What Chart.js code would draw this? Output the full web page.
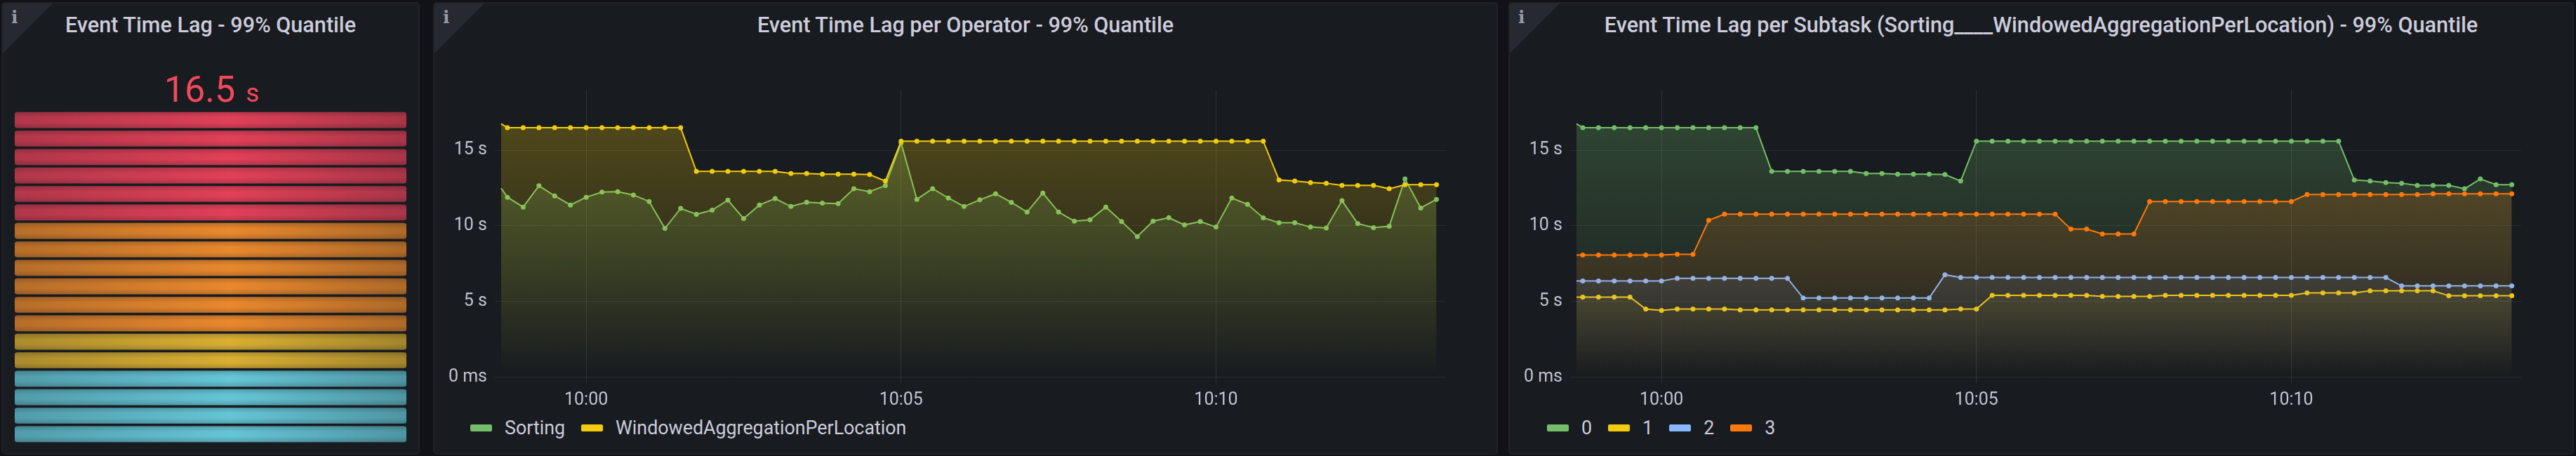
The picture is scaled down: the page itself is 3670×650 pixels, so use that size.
<!DOCTYPE html>
<html>
<head>
<meta charset="utf-8">
<title>Event Time Lag</title>
<script src="https://cdn.jsdelivr.net/npm/chart.js@4"></script>
<style>
  html, body { margin: 0; padding: 0; width: 3670px; height: 650px; overflow: hidden; background: #111217; font-family: Roboto, sans-serif; color: #ccccdc; }
  .panel { position: absolute; top: 3px; height: 645px; box-sizing: border-box; background: #181b1f; border: 2px solid #202226; border-radius: 5px; overflow: hidden; }
  .corner { position: absolute; left: 0; top: 0; width: 71px; height: 71px; background: #262930; clip-path: polygon(0 0, 100% 0, 0 100%); }
  .info { position: absolute; left: 12px; top: 6px; font: bold 25px "DejaVu Serif", serif; color: #9a9aa6; line-height: 28px; }
  .title { position: absolute; left: 0; right: 0; top: 12px; text-align: center; font-size: 30.6px; font-weight: 500; line-height: 38px; }
  canvas { position: absolute; }
  .big { position: absolute; left: 0; width: 595px; top: 93px; text-align: center; color: #f2495c; font-size: 52px; line-height: 60px; }
  .big span { font-size: 37px; margin-left: 15px; }
  .legend { position: absolute; top: 591px; height: 38px; display: flex; align-items: center; font-size: 26.8px; white-space: nowrap; }
  .legend i { display: block; width: 31px; height: 10px; border-radius: 2px; margin-right: 18px; }
  .legend b { font-weight: 400; margin-right: 23px; }
</style>
</head>
<body>
<div class="panel" style="left:2px;width:596px">
  <div class="corner"></div><div class="info">i</div>
  <div class="title">Event Time Lag - 99% Quantile</div>
  <div class="big">16.5<span>s</span></div>
</div>
<div class="panel" style="left:617px;width:1517px">
  <div class="corner"></div><div class="info">i</div>
  <div class="title">Event Time Lag per Operator - 99% Quantile</div>
</div>
<div class="panel" style="left:2149px;width:1518px">
  <div class="corner"></div><div class="info">i</div>
  <div class="title">Event Time Lag per Subtask (Sorting____WindowedAggregationPerLocation) - 99% Quantile</div>
</div>
<canvas id="gaugeChart" width="558" height="474" style="left:21px;top:158px"></canvas>
<canvas id="operatorChart" width="1500" height="470" style="left:625px;top:120px"></canvas>
<canvas id="subtaskChart" width="1500" height="470" style="left:2157px;top:120px"></canvas>
<div class="legend" id="operatorLegend" style="left:670px"></div>
<div class="legend" id="subtaskLegend" style="left:2204px"></div>

<script>
// seconds relative to 10:00, first sample is cut off by the time range
var times = [-81, -75, -60, -45, -30, -15, 0, 15, 30, 45, 60, 75, 90, 105, 120, 135, 150, 165, 180, 195, 210, 225, 240, 255, 270, 285, 300,
  315, 330, 345, 360, 375, 390, 405, 420, 435, 450, 465, 480, 495, 510, 525, 540, 555, 570, 585, 600, 615, 630, 645, 660, 675, 690, 705, 720, 735, 750, 765, 780, 795, 810];

var sortingLag = [12.49, 11.89, 11.24, 12.65, 11.98, 11.38, 11.89, 12.23, 12.26, 12.04, 11.61, 9.83, 11.15, 10.76, 11.04, 11.70, 10.48, 11.38, 11.80, 11.28, 11.56, 11.50, 11.47, 12.45, 12.26, 12.66, 15.48,
  11.75, 12.46, 11.84, 11.28, 11.72, 12.12, 11.55, 10.91, 12.17, 10.91, 10.31, 10.40, 11.24, 10.29, 9.29, 10.31, 10.54, 10.06, 10.28, 9.92, 11.84, 11.42, 10.53, 10.20, 10.20, 9.92, 9.86, 11.66, 10.15, 9.88, 9.97, 13.10, 11.18, 11.75];
var windowedLag = [16.75, 16.49, 16.49, 16.49, 16.49, 16.49, 16.49, 16.49, 16.49, 16.49, 16.49, 16.49, 16.49, 13.6, 13.6, 13.6, 13.6, 13.6, 13.6, 13.47, 13.47, 13.42, 13.42, 13.42, 13.39, 12.96, 15.6,
  15.6, 15.6, 15.6, 15.6, 15.6, 15.6, 15.6, 15.6, 15.6, 15.6, 15.6, 15.6, 15.6, 15.6, 15.6, 15.6, 15.6, 15.6, 15.6, 15.6, 15.6, 15.6, 15.6, 13.03, 12.97, 12.86, 12.82, 12.68, 12.68, 12.68, 12.45, 12.72, 12.72, 12.72];

var subtask0 = [16.75, 16.49, 16.49, 16.49, 16.49, 16.49, 16.49, 16.49, 16.49, 16.49, 16.49, 16.49, 16.49, 13.6, 13.6, 13.6, 13.6, 13.6, 13.6, 13.47, 13.47, 13.42, 13.42, 13.42, 13.39, 12.96, 15.6,
  15.6, 15.6, 15.6, 15.6, 15.6, 15.6, 15.6, 15.6, 15.6, 15.6, 15.6, 15.6, 15.6, 15.6, 15.6, 15.6, 15.6, 15.6, 15.6, 15.6, 15.6, 15.6, 15.6, 13.03, 12.97, 12.86, 12.82, 12.68, 12.68, 12.68, 12.45, 13.10, 12.72, 12.72];
var subtask1 = [5.28, 5.28, 5.28, 5.28, 5.28, 4.49, 4.40, 4.49, 4.49, 4.49, 4.49, 4.44, 4.44, 4.44, 4.44, 4.44, 4.44, 4.44, 4.44, 4.44, 4.44, 4.44, 4.44, 4.44, 4.44, 4.49, 4.49,
  5.40, 5.40, 5.40, 5.40, 5.40, 5.40, 5.40, 5.33, 5.33, 5.33, 5.33, 5.40, 5.40, 5.40, 5.40, 5.40, 5.40, 5.40, 5.40, 5.40, 5.56, 5.56, 5.56, 5.56, 5.70, 5.70, 5.70, 5.70, 5.70, 5.37, 5.37, 5.37, 5.37, 5.37];
var subtask2 = [6.35, 6.35, 6.35, 6.35, 6.35, 6.35, 6.35, 6.53, 6.53, 6.53, 6.53, 6.53, 6.53, 6.53, 6.53, 5.22, 5.22, 5.22, 5.22, 5.22, 5.22, 5.22, 5.22, 5.22, 6.76, 6.58, 6.58,
  6.58, 6.58, 6.58, 6.58, 6.58, 6.58, 6.58, 6.58, 6.58, 6.58, 6.58, 6.58, 6.58, 6.58, 6.58, 6.58, 6.58, 6.58, 6.58, 6.58, 6.58, 6.58, 6.58, 6.58, 6.58, 6.58, 6.02, 6.02, 6.02, 6.02, 6.02, 6.02, 6.02, 6.02];
var subtask3 = [8.07, 8.07, 8.07, 8.07, 8.07, 8.07, 8.07, 8.11, 8.11, 10.36, 10.77, 10.77, 10.77, 10.77, 10.77, 10.77, 10.77, 10.77, 10.77, 10.77, 10.77, 10.77, 10.77, 10.77, 10.77, 10.77, 10.77,
  10.77, 10.77, 10.77, 10.77, 10.77, 9.78, 9.78, 9.46, 9.46, 9.46, 11.61, 11.61, 11.61, 11.61, 11.61, 11.61, 11.61, 11.61, 11.61, 11.61, 12.07, 12.07, 12.07, 12.07, 12.07, 12.07, 12.07, 12.07, 12.12, 12.12, 12.12, 12.12, 12.12, 12.12];

var xTicks = [0, 300, 600];
var xTickLabels = ["10:00", "10:05", "10:10"];
var yTicks = [0, 5, 10, 15];
var yTickLabels = ["0 ms", "5 s", "10 s", "15 s"];

// bar gauge cells, top to bottom
var gaugeCells = [1, 2, 3, 4, 5, 6, 7, 8, 9, 10, 11, 12, 13, 14, 15, 16, 17, 18];
var gaugeValues = [1, 1, 1, 1, 1, 1, 1, 1, 1, 1, 1, 1, 1, 1, 1, 1, 1, 1];
var gaugeColors = ["232,66,90", "232,66,90", "232,66,90", "232,66,90", "232,66,90", "232,66,90",
  "240,140,46", "240,140,46", "240,140,46", "240,140,46", "240,140,46", "240,140,46",
  "224,180,51", "224,180,51",
  "104,203,220", "104,203,220", "104,203,220", "104,203,220"];

var GREEN = "115,191,105", YELLOW = "242,204,12", BLUE = "138,184,255", ORANGE = "255,120,10";

function areaFill(rgb) {
  return function (context) {
    var area = context.chart.chartArea;
    if (!area) return "rgba(" + rgb + ",0.2)";
    var g = context.chart.ctx.createLinearGradient(0, area.top, 0, area.bottom);
    g.addColorStop(0, "rgba(" + rgb + ",0.29)");
    g.addColorStop(1, "rgba(" + rgb + ",0)");
    return g;
  };
}

function series(label, values, rgb, order) {
  return {
    label: label,
    data: values,
    borderColor: "rgb(" + rgb + ")",
    backgroundColor: areaFill(rgb),
    pointBackgroundColor: "rgb(" + rgb + ")",
    pointBorderColor: "rgb(" + rgb + ")",
    pointBorderWidth: 0,
    pointRadius: function (context) { return context.dataIndex === 0 ? 0 : 3.5; },
    borderWidth: 2,
    fill: "origin",
    tension: 0,
    order: order
  };
}

function lagChart(id, datasets) {
  return new Chart(document.getElementById(id), {
    type: "line",
    data: { labels: times, datasets: datasets },
    options: {
      responsive: false,
      animation: false,
      layout: { padding: { top: 8, right: 65, bottom: 0, left: 0 } },
      plugins: { legend: { display: false }, tooltip: { enabled: false } },
      scales: {
        x: {
          type: "linear",
          min: -87,
          max: 819,
          afterBuildTicks: function (scale) {
            scale.ticks = xTicks.map(function (v) { return { value: v }; });
          },
          afterFit: function (scale) {
            scale.height = 52.7;
            scale.paddingLeft = 0;
            scale.paddingRight = 0;
          },
          border: { display: false },
          grid: { color: "rgba(204,204,220,0.13)", tickColor: "rgba(204,204,220,0.13)", tickLength: 9 },
          ticks: {
            autoSkip: false,
            maxRotation: 0,
            padding: 9,
            color: "rgba(204,204,220,0.95)",
            font: { family: "Roboto", size: 25 },
            callback: function (v) { return xTickLabels[xTicks.indexOf(v)]; }
          }
        },
        y: {
          min: 0,
          max: 19,
          afterBuildTicks: function (scale) {
            scale.ticks = yTicks.map(function (v) { return { value: v }; });
          },
          afterFit: function (scale) {
            scale.width = 80;
            scale.paddingTop = 0;
            scale.paddingBottom = 0;
          },
          border: { display: false },
          grid: { color: "rgba(204,204,220,0.09)", drawTicks: false },
          ticks: {
            padding: 11,
            color: "rgba(204,204,220,0.95)",
            font: { family: "Roboto", size: 25 },
            callback: function (v) { return yTickLabels[yTicks.indexOf(v)]; }
          }
        }
      }
    }
  });
}

function pointsOf(values) {
  return values.map(function (v, i) { return { x: times[i], y: v }; });
}

var operatorChart = lagChart("operatorChart", [
  series("Sorting", pointsOf(sortingLag), GREEN, 1),
  series("WindowedAggregationPerLocation", pointsOf(windowedLag), YELLOW, 0)
]);

var subtaskChart = lagChart("subtaskChart", [
  series("0", pointsOf(subtask0), GREEN, 3),
  series("1", pointsOf(subtask1), YELLOW, 2),
  series("2", pointsOf(subtask2), BLUE, 1),
  series("3", pointsOf(subtask3), ORANGE, 0)
]);

function htmlLegend(chart, id) {
  var box = document.getElementById(id);
  chart.data.datasets.forEach(function (ds) {
    var swatch = document.createElement("i");
    swatch.style.background = ds.borderColor;
    var name = document.createElement("b");
    name.textContent = ds.label;
    box.appendChild(swatch);
    box.appendChild(name);
  });
}
htmlLegend(operatorChart, "operatorLegend");
htmlLegend(subtaskChart, "subtaskLegend");

// gauge: one layer for the sideways glow, one for the dark top and bottom of each cell
var gaugeChart = new Chart(document.getElementById("gaugeChart"), {
  type: "bar",
  data: {
    labels: gaugeCells,
    datasets: [
      {
        data: gaugeValues,
        grouped: false,
        order: 1,
        barThickness: 22,
        borderRadius: 4,
        borderSkipped: false,
        backgroundColor: function (context) {
          var rgb = gaugeColors[context.dataIndex];
          var area = context.chart.chartArea;
          if (!area) return "rgb(" + rgb + ")";
          var g = context.chart.ctx.createLinearGradient(area.left, 0, area.right, 0);
          g.addColorStop(0, "rgba(" + rgb + ",0.76)");
          g.addColorStop(0.55, "rgba(" + rgb + ",1)");
          g.addColorStop(1, "rgba(" + rgb + ",0.72)");
          return g;
        }
      },
      {
        data: gaugeValues,
        grouped: false,
        order: 0,
        barThickness: 22,
        borderRadius: 4,
        borderSkipped: false,
        backgroundColor: function (context) {
          var scale = context.chart.scales.y;
          if (!scale || !context.chart.chartArea) return "rgba(0,0,0,0)";
          var y = scale.getPixelForValue(context.dataIndex);
          var g = context.chart.ctx.createLinearGradient(0, y - 11, 0, y + 11);
          g.addColorStop(0, "rgba(10,10,20,0.2)");
          g.addColorStop(0.35, "rgba(10,10,20,0.03)");
          g.addColorStop(0.65, "rgba(10,10,20,0.03)");
          g.addColorStop(1, "rgba(10,10,20,0.2)");
          return g;
        }
      }
    ]
  },
  options: {
    indexAxis: "y",
    responsive: false,
    animation: false,
    plugins: { legend: { display: false }, tooltip: { enabled: false } },
    scales: {
      x: { display: false, min: 0, max: 1 },
      y: { display: false }
    }
  }
});
</script>
</body>
</html>
